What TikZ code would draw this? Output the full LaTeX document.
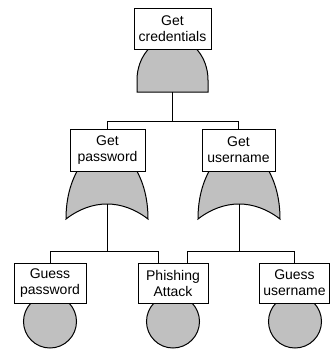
\documentclass[tikz,border=0pt]{standalone}
\usepackage{fontspec}
\setmainfont{Liberation Sans}
\definecolor{gatec}{RGB}{192,192,192}
\begin{document}
\begin{tikzpicture}[x=1pt,y=-1pt,
  lbl/.style={draw, line width=1pt, fill=white, align=center, inner sep=0pt,
              font=\fontsize{14}{16}\selectfont},
  gatefill/.style={draw, line width=1pt, fill=gatec},
  wire/.style={line width=1pt},
  orgate/.pic={\path[gatefill] (-24,162) .. controls (-36,178) and (-41,198) .. (-41,219)
        .. controls (-15,199) and (15,199) .. (41,219)
        .. controls (41,198) and (36,178) .. (24,162) -- cycle;}]
\useasboundingbox (0,0) rectangle (335,349);
% AND gate
\path[gatefill] (137,92) -- (137,80) arc[start angle=180, end angle=360, x radius=35.5, y radius=42] -- (208,92) -- cycle;
\coordinate (a0) at (172.5,92);
% OR gates
\pic at (107,0) {orgate};
\pic at (239,0) {orgate};
\coordinate (o1) at (107,204);
\coordinate (o2) at (239,204);
% basic events
\path[gatefill] (50,321.5) circle[radius=26.5];
\path[gatefill] (173,321.5) circle[radius=26.5];
\path[gatefill] (295,321.5) circle[radius=26.5];
% boxes
\node[lbl, minimum width=77pt, minimum height=41pt] (top) at (172.5,28.5) {Get\\credentials};
\node[lbl, minimum width=75pt, minimum height=42pt] (gp) at (107.5,150) {Get\\password};
\node[lbl, minimum width=73pt, minimum height=42pt] (gu) at (238.5,150) {Get\\username};
\node[lbl, minimum width=72pt, minimum height=40pt] (gpw) at (50,283) {Guess\\password};
\node[lbl, minimum width=70pt, minimum height=40pt] (ph) at (173,283) {Phishing\\Attack};
\node[lbl, minimum width=70pt, minimum height=40pt] (gun) at (294.5,283) {Guess\\username};
\coordinate (ph1) at ([xshift=-15pt]ph.north);
\coordinate (ph2) at ([xshift=14pt]ph.north);
% wires
\draw[wire] (a0) -- ++(0,29) coordinate (j0);
\draw[wire] (j0) -| (gp.north);
\draw[wire] (j0) -| (gu.north);
\draw[wire] (o1) -- ++(0,47) coordinate (j1);
\draw[wire] (j1) -| (gpw.north);
\draw[wire] (j1) -| (ph1);
\draw[wire] (o2) -- ++(0,47) coordinate (j2);
\draw[wire] (j2) -| (ph2);
\draw[wire] (j2) -| (gun.north);
\end{tikzpicture}
\end{document}
